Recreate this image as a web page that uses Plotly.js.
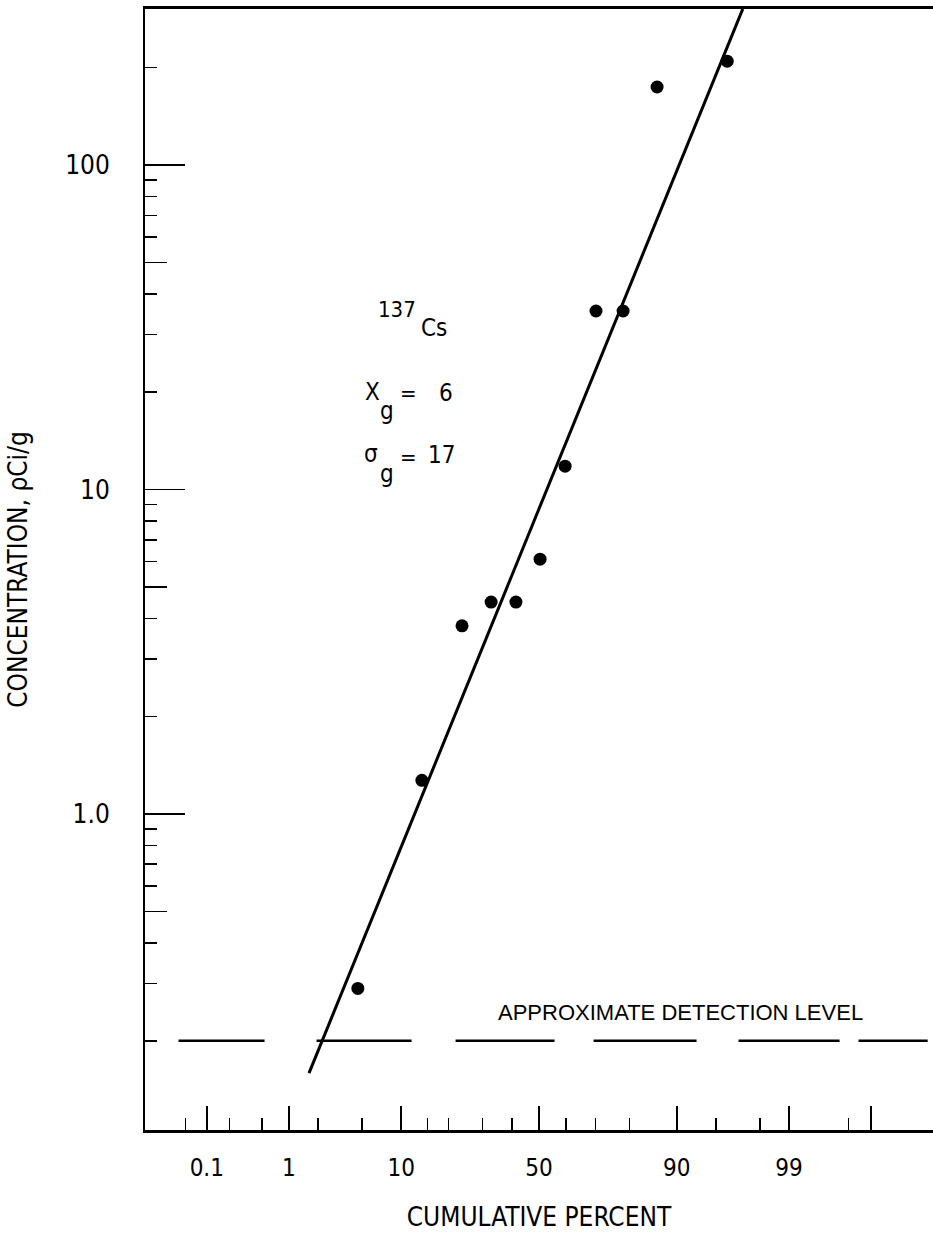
<!DOCTYPE html>
<html>
<head>
<meta charset="utf-8">
<script src="https://cdn.plot.ly/plotly-3.0.1.min.js"></script>
<style>html,body{margin:0;padding:0;background:#fff;}#chart{width:933px;height:1233px;}</style>
</head>
<body>
<div id="chart"></div>
<script>
// ---- data ----
const cumulativePercent = [4.6, 13.8, 23.7, 32.8, 41.5, 50.4, 59.6, 70.2, 78.3, 86.4, 96.0];
const concentration     = [0.29, 1.27, 3.8, 4.5, 4.5, 6.1, 11.8, 35.5, 35.5, 174, 209];

const fitPercent = [1.62, 97.1];
const fitConcentration = [0.159, 303];

const detectionLevel = 0.2;
const detectionPercent = [0.04, 99.985];

const xMajorTickPercent = [0.1, 1, 10, 50, 90, 99, 99.9];
const xMajorTickText    = ['0.1', '1', '10', '50', '90', '99', ''];
const xMinorTickPercent = [0.05, 0.2, 0.5, 2, 5, 15, 20, 30, 40, 60, 70, 80, 95, 98, 99.8];

const yMajorTicks = [1, 10, 100];
const yMajorTickText = ['1.0', '10', '100'];
const yBottomLabel = 0.1;
const yMidTicks = [0.5, 5, 50];
const yMinorTicks = [0.2, 0.3, 0.4, 0.6, 0.7, 0.8, 0.9, 2, 3, 4, 6, 7, 8, 9, 20, 30, 40, 60, 70, 80, 90, 200];

// ---- probability scale: percent -> standard normal quantile ----
function probit(pct) {
  const p = pct / 100;
  const a = [-3.969683028665376e+01, 2.209460984245205e+02, -2.759285104469687e+02, 1.383577518672690e+02, -3.066479806614716e+01, 2.506628277459239e+00];
  const b = [-5.447609879822406e+01, 1.615858368580409e+02, -1.556989798598866e+02, 6.680131188771972e+01, -1.328068155288572e+01];
  const c = [-7.784894002430293e-03, -3.223964580411365e-01, -2.400758277161838e+00, -2.549732539343734e+00, 4.374664141464968e+00, 2.938163982698783e+00];
  const d = [7.784695709041462e-03, 3.224671290700398e-01, 2.445134137142996e+00, 3.754408661907416e+00];
  const pl = 0.02425, ph = 1 - pl;
  let q, r;
  if (p < pl) {
    q = Math.sqrt(-2 * Math.log(p));
    return (((((c[0]*q+c[1])*q+c[2])*q+c[3])*q+c[4])*q+c[5]) / ((((d[0]*q+d[1])*q+d[2])*q+d[3])*q+1);
  } else if (p <= ph) {
    q = p - 0.5; r = q * q;
    return (((((a[0]*r+a[1])*r+a[2])*r+a[3])*r+a[4])*r+a[5])*q / (((((b[0]*r+b[1])*r+b[2])*r+b[3])*r+b[4])*r+1);
  } else {
    q = Math.sqrt(-2 * Math.log(1 - p));
    return -(((((c[0]*q+c[1])*q+c[2])*q+c[3])*q+c[4])*q+c[5]) / ((((d[0]*q+d[1])*q+d[2])*q+d[3])*q+1);
  }
}
const Z = arr => arr.map(probit);

const FONT = '"Liberation Sans Narrow", "DejaVu Sans Condensed", "Liberation Sans", sans-serif';
const NB = n => '\u00a0'.repeat(n);

// plot area in pixels (for text placement helpers)
const L = 145, R = 933, T = 9, B = 1130;
const px = x => (x - L) / (R - L);
const py = y => (B - y) / (B - T);

const traces = [
  { // approximate detection level (hand-drawn, irregular dashes)
    x: Z(detectionPercent), y: [detectionLevel, detectionLevel],
    mode: 'lines', line: {color: '#000', width: 2.5, dash: '86px,52px,95px,44px,99px,39px,103px,42px,101px,19px,70px,40px'},
    hoverinfo: 'skip', showlegend: false
  },
  { // fitted log-normal line
    x: Z(fitPercent), y: fitConcentration,
    mode: 'lines', line: {color: '#000', width: 3},
    hoverinfo: 'skip', showlegend: false
  },
  { // samples
    x: Z(cumulativePercent), y: concentration,
    mode: 'markers', marker: {color: '#000', size: 13},
    showlegend: false
  },
  { x: [], y: [], xaxis: 'x', yaxis: 'y2', showlegend: false, hoverinfo: 'skip' }
];

const ann = (x, y, text, size, opts) => Object.assign({
  xref: 'paper', yref: 'paper', x: px(x), y: py(y), text: text, showarrow: false,
  font: {family: FONT, size: size, color: '#000'}, xanchor: 'center', yanchor: 'middle'
}, opts || {});

const layout = {
  width: 933, height: 1233,
  margin: {l: L, r: 933 - R, t: T, b: 1233 - B, pad: 0},
  paper_bgcolor: '#fff', plot_bgcolor: '#fff',
  showlegend: false,
  xaxis: {
    range: [-3.665, 3.665],
    showgrid: false, zeroline: false,
    showline: true, linecolor: '#000', linewidth: 3, mirror: true,
    tickmode: 'array', tickvals: Z(xMajorTickPercent), ticktext: xMajorTickText,
    ticks: 'inside', ticklen: 24, tickwidth: 1.5, tickcolor: '#000',
    minor: {tickmode: 'array', tickvals: Z(xMinorTickPercent), ticks: 'inside', ticklen: 12, tickwidth: 1.5, tickcolor: '#000', showgrid: false},
    ticklabelstandoff: 14,
    tickfont: {family: FONT, size: 24, color: '#000'},
    title: {text: NB(6) + 'CUMULATIVE PERCENT', font: {family: FONT, size: 26, color: '#000'}, standoff: 28}
  },
  yaxis: {
    type: 'log', range: [-0.974, 2.481],
    showgrid: false, zeroline: false,
    showline: true, linecolor: '#000', linewidth: 2,
    tickmode: 'array', tickvals: yMajorTicks, ticktext: yMajorTickText,
    ticks: 'inside', ticklen: 40, tickwidth: 1.8, tickcolor: '#000',
    minor: {tickmode: 'array', tickvals: yMinorTicks, ticks: 'inside', ticklen: 12, tickwidth: 1.5, tickcolor: '#000', showgrid: false},
    ticklabelstandoff: 28,
    tickfont: {family: FONT, size: 26, color: '#000'},
    title: {text: NB(8) + 'CONCENTRATION, ρCi/g', font: {family: FONT, size: 26, color: '#000'}, standoff: 30}
  },
  yaxis2: {
    type: 'log', range: [-0.974, 2.481], overlaying: 'y', side: 'left', anchor: 'x',
    showgrid: false, zeroline: false, showline: false, showticklabels: false,
    tickmode: 'array', tickvals: yMidTicks,
    ticks: 'inside', ticklen: 22, tickwidth: 1.5, tickcolor: '#000'
  },
  annotations: [
    {xref: 'paper', yref: 'y', x: 0, y: Math.log10(yBottomLabel), xanchor: 'right', yanchor: 'middle', xshift: -32,
     text: '0.1', showarrow: false, font: {family: FONT, size: 26, color: '#000'}},
    ann(680, 1012, 'APPROXIMATE DETECTION LEVEL', 22, {font: {family: '"Liberation Sans", sans-serif', size: 22, color: '#000'}}),
    ann(418, 309, '137', 22, {xanchor: 'right'}),
    ann(419, 328, 'Cs', 24, {xanchor: 'left'}),
    ann(372, 392, 'X', 24),
    ann(387, 411, 'g', 24),
    ann(408, 393, '=', 22),
    ann(446, 393, '6', 24),
    ann(371, 454, 'σ', 24),
    ann(387, 474, 'g', 24),
    ann(408, 457, '=', 22),
    ann(441, 455, '17', 24)
  ]
};

Plotly.newPlot('chart', traces, layout, {displayModeBar: false, staticPlot: true});
</script>
</body>
</html>
